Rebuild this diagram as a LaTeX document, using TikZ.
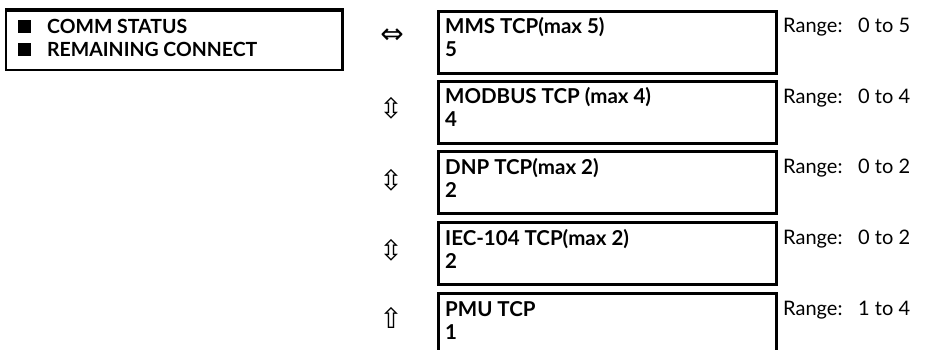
\documentclass[tikz,border=0pt]{standalone}
\usepackage{fontspec}
\setmainfont{Lato}
\newfontfamily\symfont{DejaVu Sans}
\begin{document}
\begin{tikzpicture}[x=1pt,y=-1pt,
  valbox/.style={draw, line width=3pt, minimum width=338pt, minimum height=62pt, anchor=north west, inner sep=0pt},
  lbox/.style={draw, line width=1.8pt, minimum width=336pt, minimum height=59pt, anchor=north west, inner sep=0pt},
  btext/.style={anchor=base west, inner sep=0pt, font=\bfseries\fontsize{20.5}{24}\selectfont},
  ltext/.style={anchor=base west, inner sep=0pt, font=\bfseries\fontsize{19.5}{23}\selectfont},
  rtext/.style={anchor=base west, inner sep=0pt, font=\fontsize{20}{24}\selectfont},
  arr/.style={inner sep=0pt, font=\symfont\fontsize{28}{30}\selectfont},
  bullet/.style={fill=black, draw=none, minimum size=13pt, inner sep=0pt, anchor=north west}]
\useasboundingbox (0,0) rectangle (928,350);
% left box
\node[lbox] (lb) at (5,10) {};
\draw[line width=3pt] (lb.north west) -- (lb.north east) -- (lb.south east);
\node[bullet] (q1) at (18,20) {};
\node[bullet] (q2) at (18,43) {};
\node[ltext] (l1) at (47,34) {COMM STATUS};
\node[ltext] (l2) at (47,57) {REMAINING CONNECT};
% value boxes
\foreach \i/\t/\name/\val/\lo/\hi in {1/10/MMS TCP(max 5)/5/0/5, 2/80/MODBUS TCP (max 4)/4/0/4, 3/150/DNP TCP(max 2)/2/0/2, 4/221/IEC-104 TCP(max 2)/2/0/2, 5/292/PMU TCP/1/1/4}{
  \node[valbox] (b\i) at (437,\t) {};
  \node[btext] (n\i) at (445,\t+24) {\name};
  \node[btext] (v\i) at (445,\t+47) {\val};
  \node[rtext] (r\i) at (783,\t+23) {Range:};
  \node[rtext] (s\i) at (858,\t+23) {\lo{} to \hi};
}
% arrows
\node[arr] (a1) at (392,36) {⇔};
\node[arr] (a2) at (391,108) {⇳};
\node[arr] (a3) at (391,180) {⇳};
\node[arr] (a4) at (391,250) {⇳};
\node[arr] (a5) at (391,318) {⇧};
\end{tikzpicture}
\end{document}
